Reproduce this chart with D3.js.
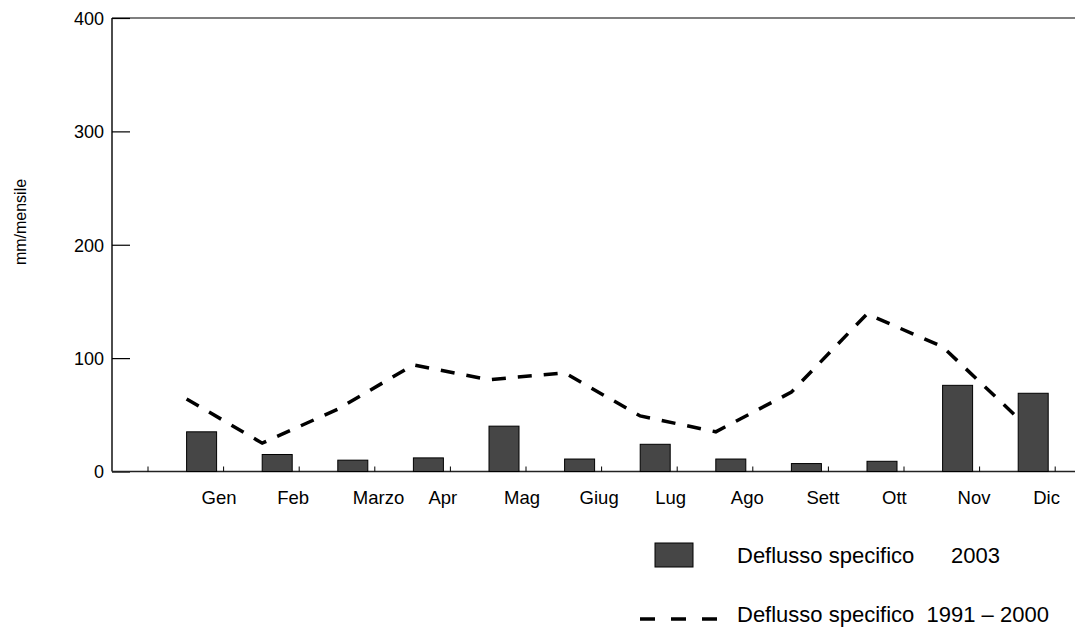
<!DOCTYPE html>
<html>
<head>
<meta charset="utf-8">
<script src="https://cdn.jsdelivr.net/npm/d3@7"></script>
<style>
  html, body { margin: 0; padding: 0; background: #fff; }
  svg { display: block; font-family: "Liberation Sans", Arial, sans-serif; }
</style>
</head>
<body>
<svg id="chart" width="1082" height="627"></svg>
<script>
const months = ["Gen", "Feb", "Marzo", "Apr", "Mag", "Giug", "Lug", "Ago", "Sett", "Ott", "Nov", "Dic"];
const deflusso2003 = [35, 15, 10, 12, 40, 11, 24, 11, 7, 9, 76, 69];
const deflussoMedio = [64, 25, 55, 94, 81, 87, 49, 35, 70, 139, 110, 47];
const yTicks = [0, 100, 200, 300, 400];
const yLabel = "mm/mensile";
const legendBars = "Deflusso specifico      2003";
const legendLine = "Deflusso specifico  1991 \u2013 2000";

(function () {
const svg = d3.select("#chart");
const pL = 112, pR = 1075, pT = 18, pB = 471.5;

const y = d3.scaleLinear().domain([0, 400]).range([pB, pT]);
const x = d3.scaleBand().domain(months).range([148, 148 + 12 * 75.6]).paddingInner(0).paddingOuter(0);
const bw = x.bandwidth();

// top border
svg.append("line").attr("x1", pL).attr("x2", pR).attr("y1", pT).attr("y2", pT)
  .attr("stroke", "#000").attr("stroke-width", 1.2);

// y axis
const yAxis = d3.axisRight(y).tickValues(yTicks).tickSize(18).tickFormat(d => d);
const gy = svg.append("g").attr("transform", `translate(${pL},0)`).call(yAxis);
gy.select(".domain").attr("stroke", "#000").attr("stroke-width", 1.4).attr("d", `M0,${pT}V${pB}`);
gy.selectAll(".tick line").attr("stroke", "#000").attr("stroke-width", 1.2);
gy.selectAll(".tick text").attr("x", -8).attr("text-anchor", "end").attr("font-size", 18)
  .attr("fill", "#000").attr("font-family", "Liberation Sans, Arial, sans-serif").attr("dy", "0.35em");

// y label
svg.append("text").attr("transform", `translate(26,222) rotate(-90)`).attr("text-anchor", "middle")
  .attr("font-size", 16).attr("fill", "#000").text(yLabel);

// x axis baseline
svg.append("line").attr("x1", pL).attr("x2", pR).attr("y1", pB).attr("y2", pB)
  .attr("stroke", "#222").attr("stroke-width", 1.6);

// x ticks at band boundaries
const bounds = months.map(m => x(m)).concat([x(months[months.length - 1]) + bw]);
svg.append("g").selectAll("line").data(bounds).join("line")
  .attr("x1", d => d).attr("x2", d => d).attr("y1", pB).attr("y2", pB - 5)
  .attr("stroke", "#000").attr("stroke-width", 1);

// month labels
svg.append("g").selectAll("text").data(months).join("text")
  .attr("x", d => x(d) + bw - 22).attr("y", 504)
  .attr("font-size", 18.5).attr("fill", "#000").text(d => d);

// bars
const barOff = 38.6, barW = 30;
svg.append("g").selectAll("rect").data(deflusso2003).join("rect")
  .attr("x", (d, i) => x(months[i]) + barOff).attr("width", barW)
  .attr("y", d => y(d)).attr("height", d => pB - y(d))
  .attr("fill", "#464646").attr("stroke", "#000").attr("stroke-width", 1);

// dashed line
const line = d3.line().x((d, i) => x(months[i]) + barOff).y(d => y(d));
svg.append("path").datum(deflussoMedio).attr("d", line)
  .attr("fill", "none").attr("stroke", "#000").attr("stroke-width", 3.5)
  .attr("stroke-dasharray", "14,12");

// legend
svg.append("rect").attr("x", 655).attr("y", 543).attr("width", 38).attr("height", 24)
  .attr("fill", "#464646").attr("stroke", "#000").attr("stroke-width", 1);
svg.append("text").attr("x", 737).attr("y", 563).attr("font-size", 22).attr("fill", "#000")
  .attr("xml:space", "preserve").style("white-space", "pre").text(legendBars);
svg.append("line").attr("x1", 640).attr("x2", 717).attr("y1", 619).attr("y2", 619)
  .attr("stroke", "#000").attr("stroke-width", 3.5).attr("stroke-dasharray", "15,16");
svg.append("text").attr("x", 737).attr("y", 622).attr("font-size", 22).attr("fill", "#000")
  .attr("xml:space", "preserve").style("white-space", "pre").text(legendLine);
})();
</script>
</body>
</html>
